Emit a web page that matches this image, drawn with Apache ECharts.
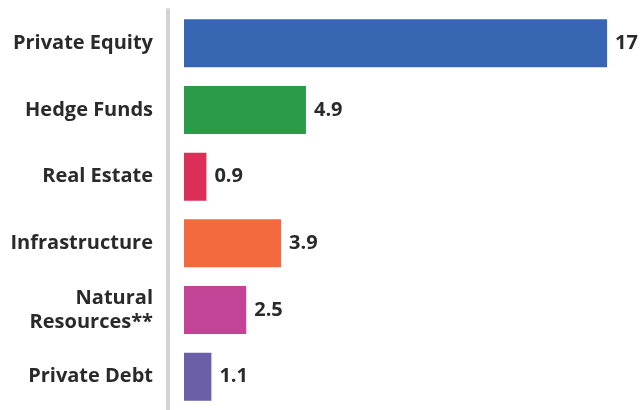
<!DOCTYPE html>
<html><head><meta charset="utf-8">
<script src="https://cdn.jsdelivr.net/npm/echarts@6/dist/echarts.min.js"></script>
<style>html,body{margin:0;padding:0;background:#fff}#c{width:640px;height:410px}</style>
</head><body><div id="c"></div>
<script>
const categories = ['Private Equity', 'Hedge Funds', 'Real Estate', 'Infrastructure', 'Natural\nResources**', 'Private Debt'];
const values = [17, 4.9, 0.9, 3.9, 2.5, 1.1];
const colors = ['#3767b3', '#2a9b48', '#dc2f58', '#f26a3d', '#c34496', '#6a5fa8'];

const FONT = "'Open Sans'";
const chart = echarts.init(document.getElementById('c'));
chart.setOption({
  animation: false,
  grid: { left: 168, right: 8, top: 10, bottom: -4 },
  xAxis: {
    type: 'value', min: -0.643, max: 18, show: false
  },
  yAxis: {
    type: 'category', data: categories, inverse: true,
    axisLine: { show: true, onZero: false, lineStyle: { color: '#d3d3d3', width: 4 } },
    axisTick: { show: false },
    axisLabel: {
      margin: 15, color: '#2a2a2a', fontFamily: FONT, fontWeight: 'bold',
      fontSize: 20, lineHeight: 24, align: 'right'
    }
  },
  series: [{
    type: 'bar', barWidth: 48,
    data: values.map((v, i) => ({ value: v, itemStyle: { color: colors[i] } })),
    label: {
      show: true, position: 'right', distance: 8, color: '#2a2a2a',
      fontFamily: FONT, fontWeight: 'bold', fontSize: 20
    }
  }]
});
</script></body></html>
